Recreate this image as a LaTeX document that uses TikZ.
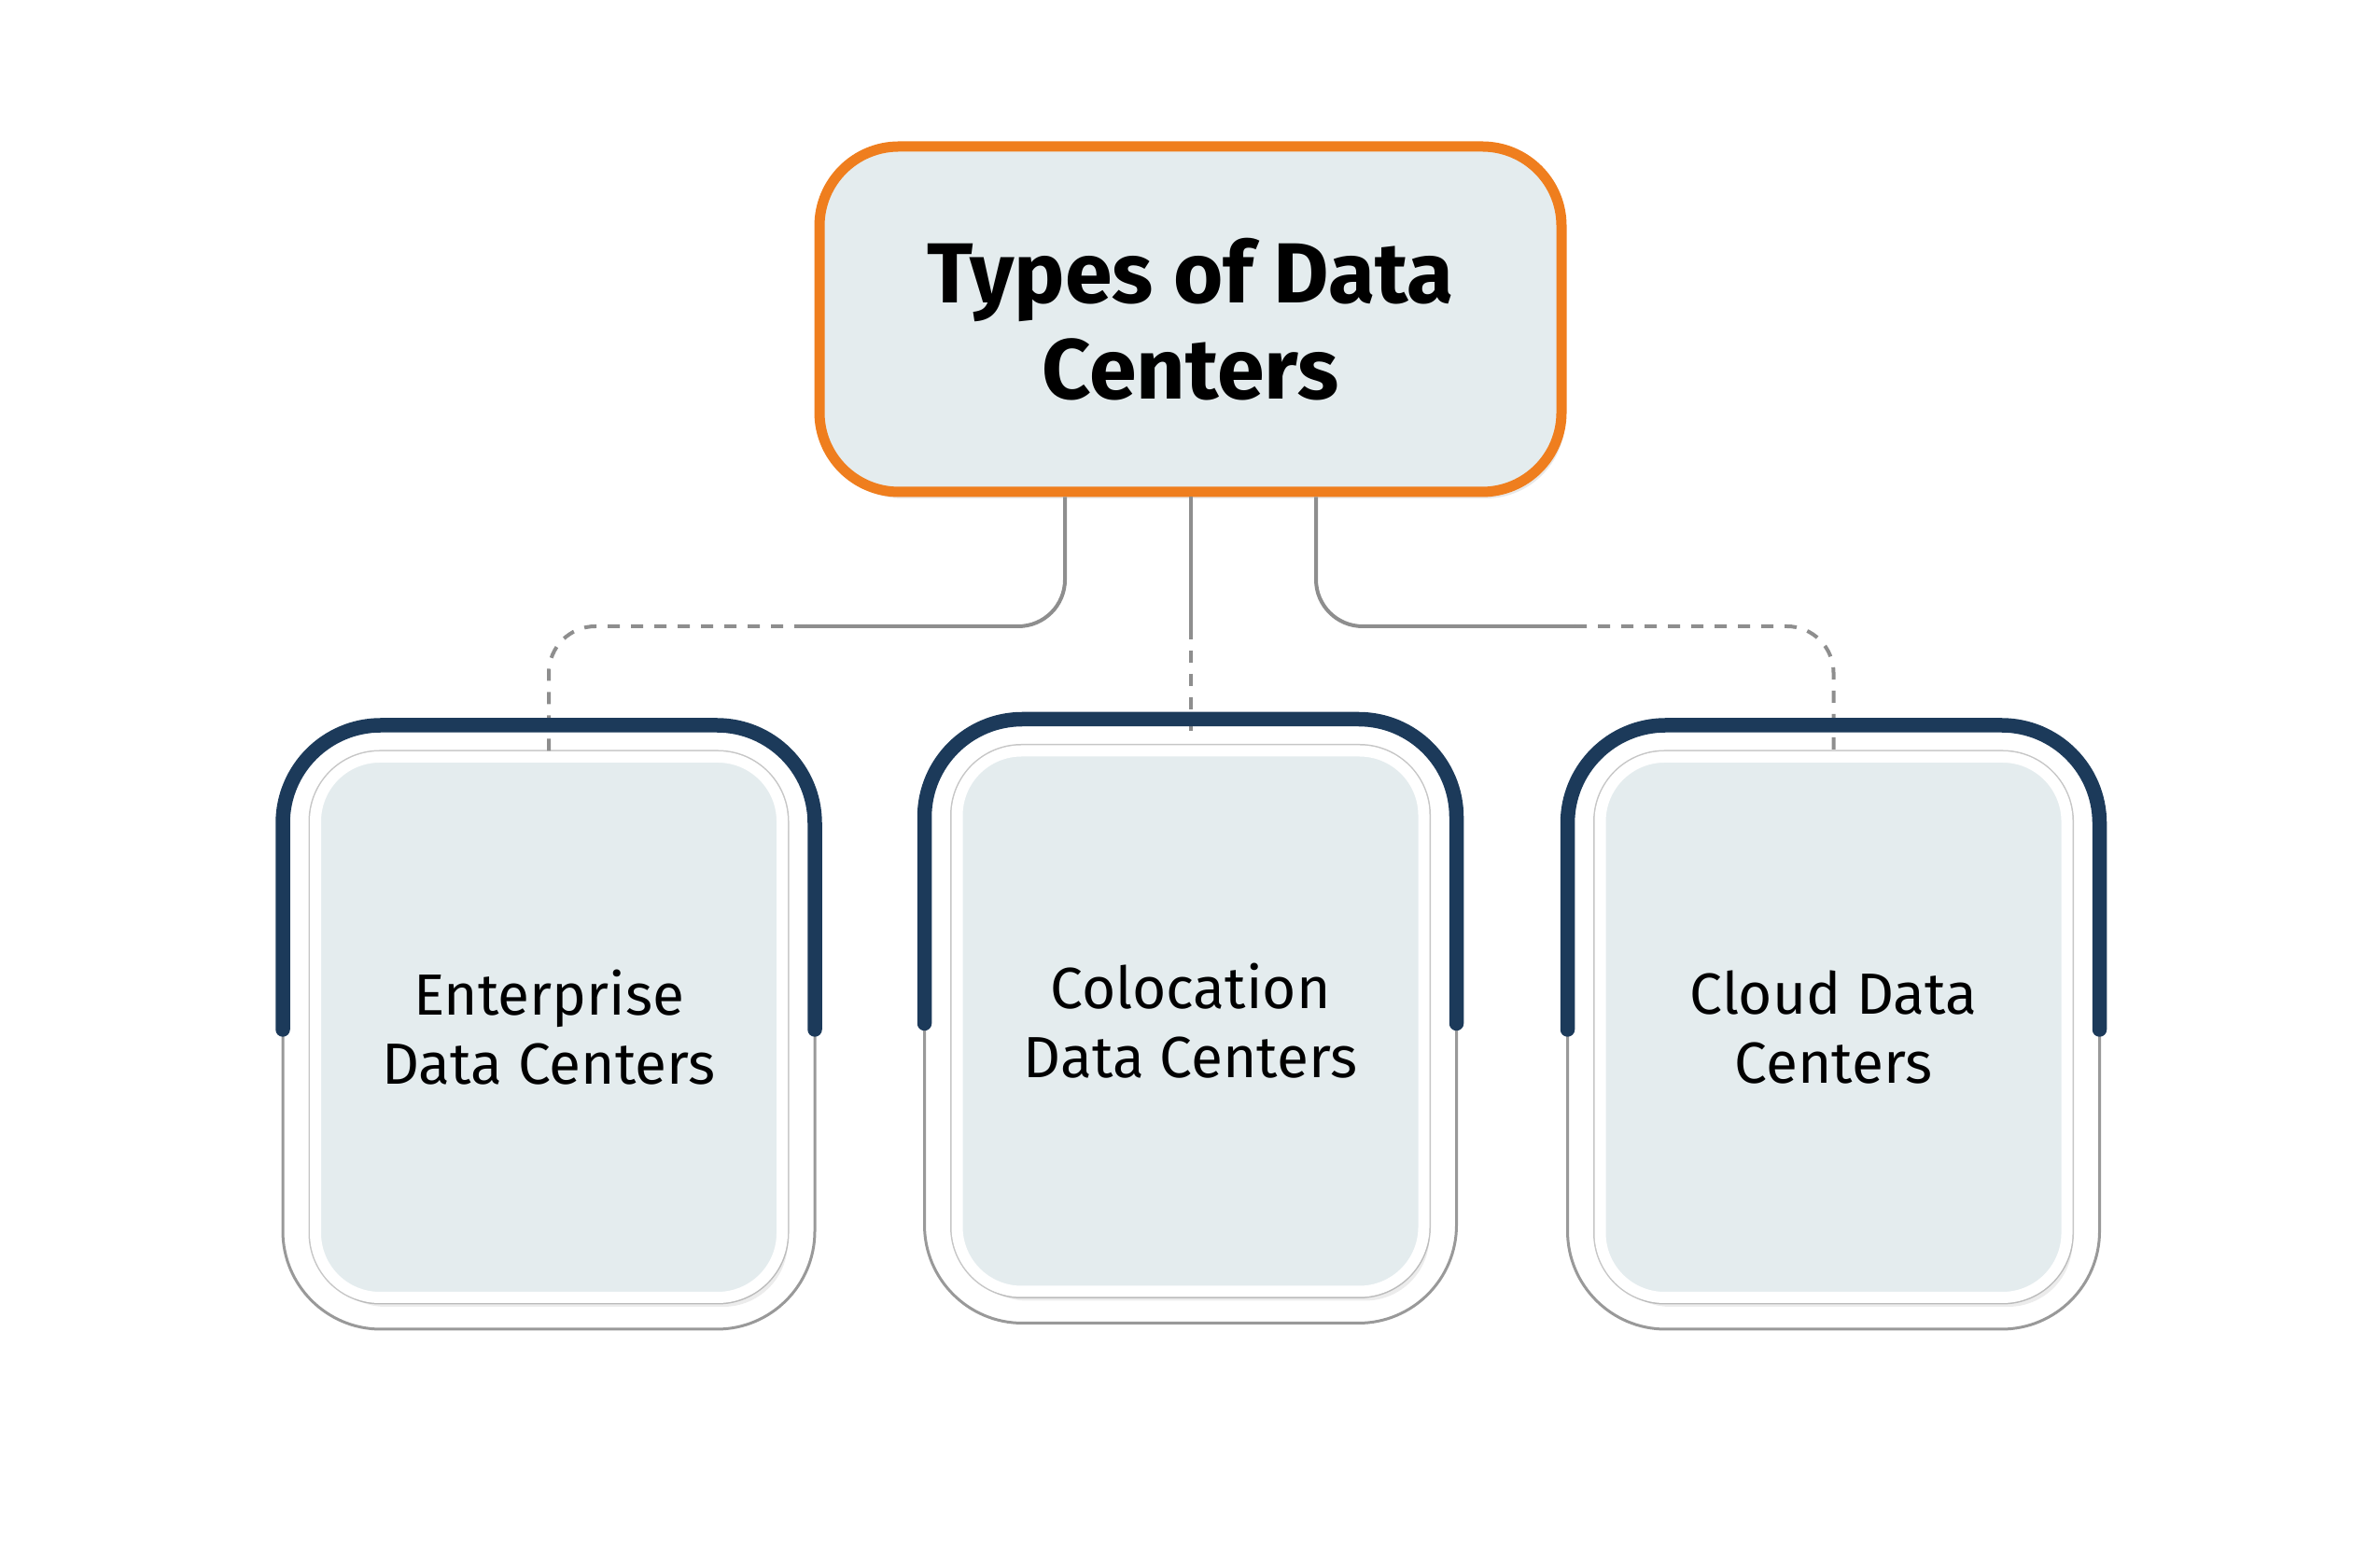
\documentclass[tikz,border=0pt]{standalone}
\usepackage{fontspec}
\setmainfont{Fira Sans}
\usepackage{tikz}
\usetikzlibrary{positioning,shadows}

\definecolor{cardfill}{HTML}{E4ECEE}
\definecolor{navy}{HTML}{1C3A5A}
\definecolor{titleorange}{HTML}{EF7E1E}
\definecolor{linkgray}{HTML}{8E8E8E}

\tikzset{
  titlebox/.style={draw=titleorange,line width=0.11cm,fill=cardfill,rounded corners=0.85cm,
    minimum width=7.95cm,minimum height=3.70cm,align=center,
    drop shadow={shadow xshift=0.04cm,shadow yshift=-0.07cm,opacity=0.18},
    font=\bfseries\fontsize{26}{29.3}\selectfont},
  card/.style={draw=white,line width=0.12cm,fill=cardfill,rounded corners=0.69cm,
    minimum width=5.0cm,minimum height=5.79cm,align=center,
    preaction={draw=gray!45,line width=0.15cm},
    drop shadow={shadow xshift=0.06cm,shadow yshift=-0.1cm,opacity=0.15},
    font=\fontsize{17.7}{21}\selectfont},
  navyarc/.style={draw=navy,line width=0.155cm,line cap=round,rounded corners=1.05cm},
  grayarc/.style={draw=gray!80,line width=0.03cm,rounded corners=1.05cm},
  link/.style={draw=linkgray,line width=0.04cm,rounded corners=0.5cm},
  dashlink/.style={link,dash pattern=on 0.13cm off 0.12cm}
}

\begin{document}
\begin{tikzpicture}
  \useasboundingbox (0,0) rectangle (25.5,16.66);

  \node [titlebox] (types) at (12.755,13.24) {Types of Data\\Centers};

  % cards
  \foreach \x/\dy/\name/\txt in {5.88/0/enterprise/{Enterprise\\Data Centers},
      12.755/0.065/colocation/{Colocation\\Data Centers},
      19.645/0/cloud/{Cloud Data\\Centers}}
  \node [card] (\name) at (\x,5.655+\dy) {\txt};

  % links
  \draw [link] ([xshift=-1.345cm]types.south) |- (8.64,9.95);
  \draw [dashlink] (8.64,9.95) -| (enterprise.north);
  \draw [link] (types.south) -- (12.755,9.94);
  \draw [dashlink] (12.755,9.94) -- ([yshift=0.15cm]colocation.north);
  \draw [link] ([xshift=1.345cm]types.south) |- (16.87,9.95);
  \draw [dashlink] (16.87,9.95) -| (cloud.north);

  % frames
  \foreach \x/\dy in {5.88/0,12.755/0.065,19.645/0} {
    \draw [grayarc] (\x-2.85,5.63+\dy) -- (\x-2.85,2.42+\dy)
      -- (\x+2.85,2.42+\dy) -- (\x+2.85,5.63+\dy);
    \draw [navyarc] (\x-2.85,5.63+\dy) -- (\x-2.85,8.89+\dy)
      -- (\x+2.85,8.89+\dy) -- (\x+2.85,5.63+\dy);
  }

\end{tikzpicture}
\end{document}
